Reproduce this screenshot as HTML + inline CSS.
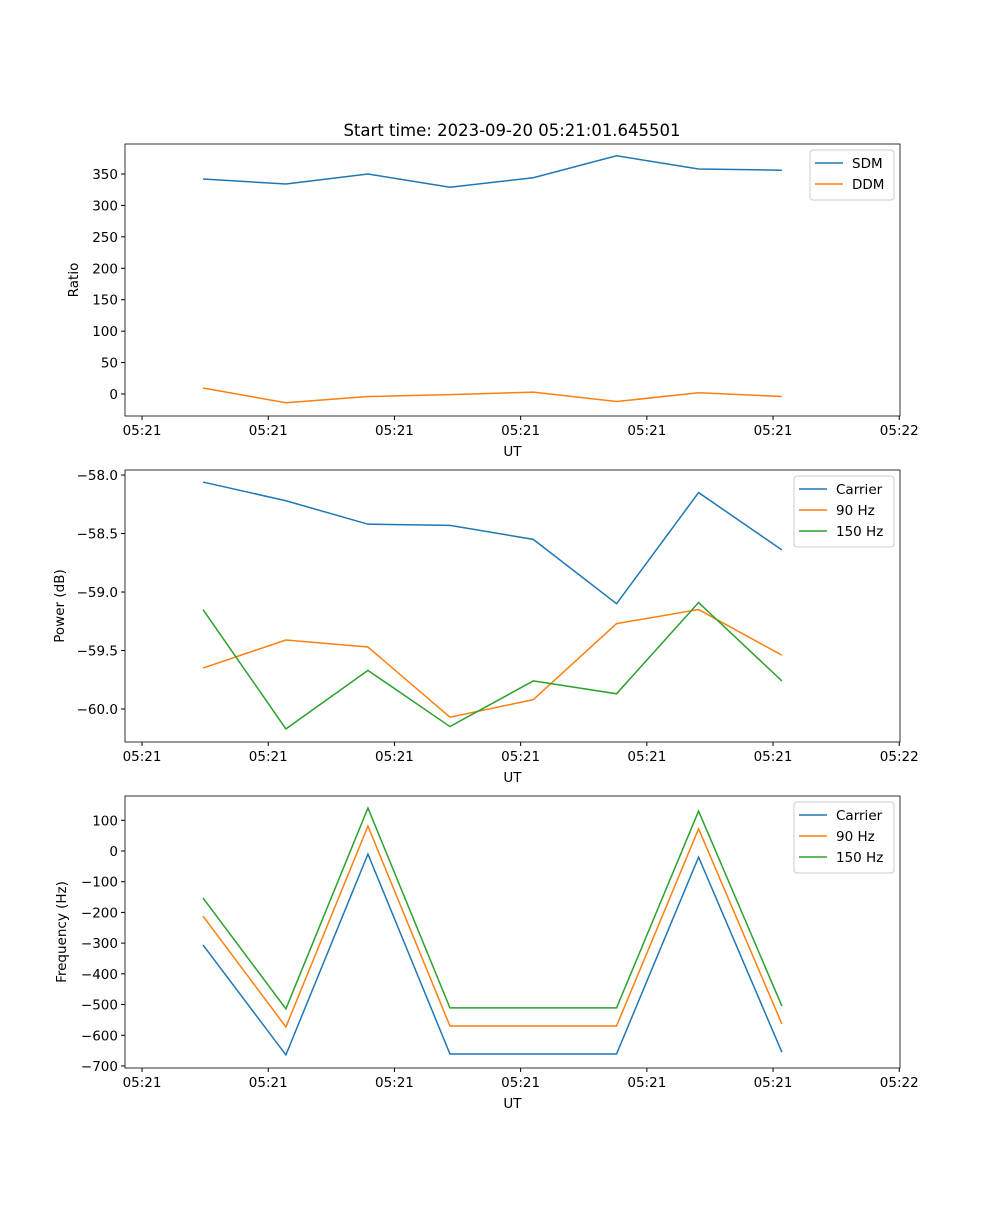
<!DOCTYPE html>
<html><head><meta charset="utf-8"><style>
body{margin:0;background:#fff;}
svg text{font-family:"DejaVu Sans","Liberation Sans",sans-serif;font-size:13.5px;fill:#000;}
</style></head><body>
<svg id="fig" width="1000" height="1200" xmlns="http://www.w3.org/2000/svg"></svg>
<script>
const times = [4.83, 11.4, 17.9, 24.4, 31.0, 37.6, 44.1, 50.7];
const xTickVals = [0, 10, 20, 30, 40, 50, 60];
const xTickLabels = ["05:21","05:21","05:21","05:21","05:21","05:21","05:22"];
const sdm = [342, 334, 350, 329, 344, 379, 358, 356];
const ddm = [9.5, -14, -4, -1, 3, -12, 2, -4];
const powCarrier = [-58.06, -58.22, -58.42, -58.43, -58.55, -59.10, -58.15, -58.64];
const pow90 = [-59.65, -59.41, -59.47, -60.07, -59.92, -59.27, -59.15, -59.54];
const pow150 = [-59.15, -60.17, -59.67, -60.15, -59.76, -59.87, -59.09, -59.76];
const freqCarrier = [-306, -664, -10, -661, -661, -661, -20, -655];
const freq90 = [-212, -573, 81, -570, -570, -570, 72, -563];
const freq150 = [-153, -514, 140, -511, -511, -511, 130, -505];
const ratioTicks = [0,50,100,150,200,250,300,350];
const powTicks = [-60.0,-59.5,-59.0,-58.5,-58.0];
const freqTicks = [-700,-600,-500,-400,-300,-200,-100,0,100];

const NS="http://www.w3.org/2000/svg";
const svg=document.getElementById('fig');
function mk(tag,attrs,parent){const e=document.createElementNS(NS,tag);for(const k in attrs)e.setAttribute(k,attrs[k]);(parent||svg).appendChild(e);return e;}
const C=["#1f77b4","#ff7f0e","#2ca02c"];
const L=125,R=900,xmin=-1.35,xmax=60.06;
const xs=v=>L+(v-xmin)/(xmax-xmin)*(R-L);

function panel(name,top,bottom,ymin,ymax,yticks,fmt,ylabel,series,legW){
  const g=mk('g',{});
  
  
  const ys=v=>bottom-(v-ymin)/(ymax-ymin)*(bottom-top);
  yticks.forEach(t=>{
    const y=ys(t);
    mk('line',{x1:L-4,x2:L,y1:y,y2:y,stroke:'#000'},g);
    const tx=mk('text',{x:L-7,y:y+5,'text-anchor':'end'},g);tx.textContent=fmt(t);
    
    
  });
  xTickVals.forEach((t,i)=>{
    const x=xs(t);
    mk('line',{x1:x,x2:x,y1:bottom,y2:bottom+4,stroke:'#000'},g);
    const tx=mk('text',{x:x,y:bottom+19,'text-anchor':'middle'},g);tx.textContent=xTickLabels[i];
    
    
  });
  const xl=mk('text',{x:(L+R)/2,y:bottom+40,'text-anchor':'middle'},g);xl.textContent='UT';
  
  
  const yl=mk('text',{x:0,y:0,'text-anchor':'middle',transform:`translate(${L-ylabelOff(name)},${(top+bottom)/2}) rotate(-90)`},g);yl.textContent=ylabel;
  
  
  series.forEach((s,i)=>{
    const p=mk('polyline',{points:s.data.map((v,j)=>xs(times[j])+','+ys(v)).join(' '),fill:'none',stroke:C[i],'stroke-width':1.5},g);
    
    
  });
  mk('rect',{x:L,y:top,width:R-L,height:bottom-top,fill:'none',stroke:'#000','stroke-width':0.8},g);
  const lg=mk('g',{},g);
  
  
  const lx=R-6-legW, ly=top+6;
  mk('rect',{x:lx,y:ly,width:legW,height:8+series.length*21,fill:'#fff',stroke:'#ccc',rx:3},lg);
  series.forEach((s,i)=>{
    const yy=ly+13+i*21;
    mk('line',{x1:lx+5,x2:lx+33,y1:yy,y2:yy,stroke:C[i],'stroke-width':1.5},lg);
    const t=mk('text',{x:lx+42,y:yy+5},lg);t.textContent=s.label;
    
    
  });
}
function ylabelOff(n){return n==='ratio-panel'?47:(n==='power-panel'?61:59);}
const title=mk('text',{x:512,y:136,'text-anchor':'middle',style:'font-size:16.5px'});
title.textContent='Start time: 2023-09-20 05:21:01.645501';


panel('ratio-panel',144,416,-35,397.7,ratioTicks,v=>String(v),'Ratio',[{label:'SDM',data:sdm},{label:'DDM',data:ddm}],84);
panel('power-panel',470,742,-60.282,-57.957,powTicks,v=>(v<0?'\u2212':'')+Math.abs(v).toFixed(1),'Power (dB)',[{label:'Carrier',data:powCarrier},{label:'90 Hz',data:pow90},{label:'150 Hz',data:pow150}],100);
panel('frequency-panel',796,1068,-706.6,179,freqTicks,v=>(v<0?'\u2212':'')+Math.abs(v),'Frequency (Hz)',[{label:'Carrier',data:freqCarrier},{label:'90 Hz',data:freq90},{label:'150 Hz',data:freq150}],100);
</script>
</body></html>
